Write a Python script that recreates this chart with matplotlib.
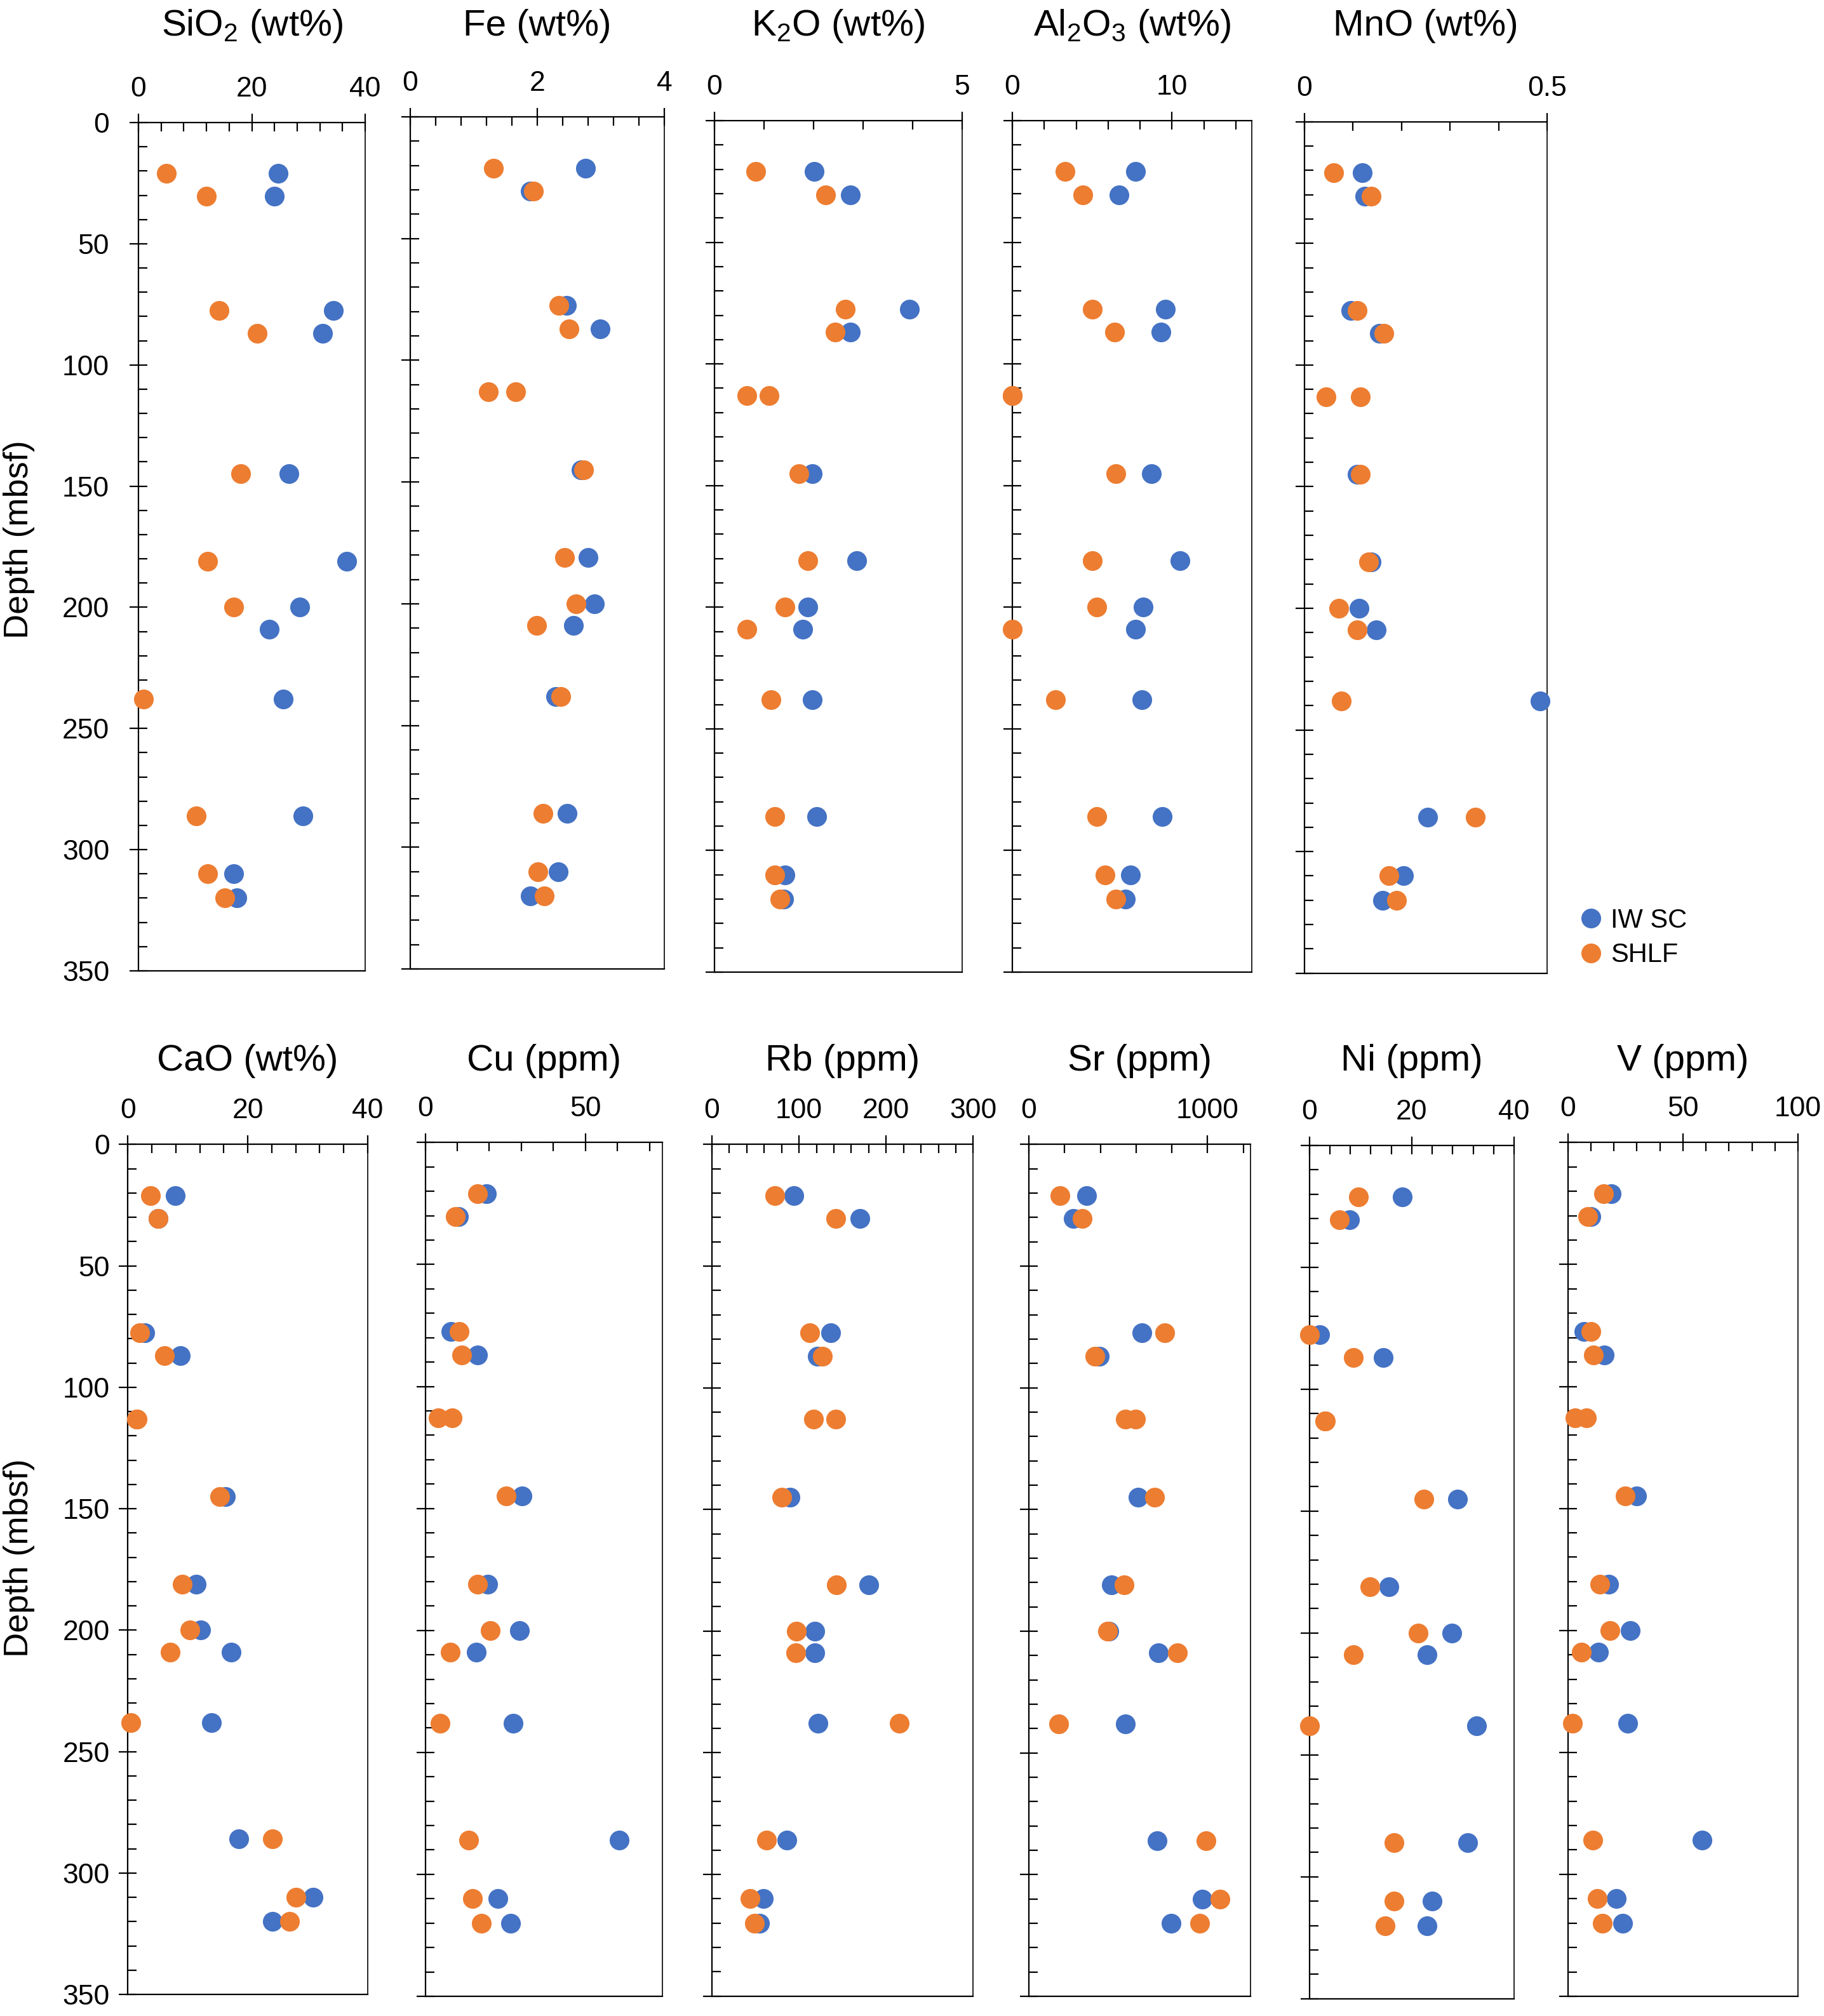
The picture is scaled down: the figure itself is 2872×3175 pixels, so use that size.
import numpy as np
import matplotlib
matplotlib.use("Agg")
import matplotlib.pyplot as plt
from matplotlib.ticker import MultipleLocator, FuncFormatter
from matplotlib.lines import Line2D

plt.rcParams['font.family'] = ['Liberation Sans', 'DejaVu Sans']

nan = np.nan

# sample depths (mbsf); SHLF has two extra samples near 113 m
depth_iw = [21, 30.5, 77.5, 87, 145, 181, 200, 209, 238, 286, 310, 320]
depth_shlf = [21, 30.5, 77.5, 87, 113, 113, 145, 181, 200, 209, 238, 286, 310, 320]

# major oxides (wt%)
sio2_iw = [24.6, 24.0, 34.4, 32.5, 26.5, 36.7, 28.5, 23.1, 25.6, 29.0, 16.8, 17.4]
sio2_shlf = [4.9, 12.0, 14.2, 20.9, nan, nan, 18.0, 12.2, 16.8, nan, 0.9, 10.2, 12.2, 15.2]
fe_iw = [2.76, 1.89, 2.46, 2.99, 2.69, 2.80, 2.90, 2.57, 2.29, 2.47, 2.33, 1.89]
fe_shlf = [1.31, 1.94, 2.34, 2.50, 1.23, 1.66, 2.73, 2.43, 2.61, 1.99, 2.37, 2.09, 2.01, 2.11]
k2o_iw = [2.02, 2.75, 3.94, 2.75, 1.97, 2.88, 1.89, 1.79, 1.97, 2.07, 1.42, 1.40]
k2o_shlf = [0.83, 2.25, 2.64, 2.44, 0.65, 1.11, 1.71, 1.89, 1.42, 0.65, 1.14, 1.22, 1.22, 1.32]
al2o3_iw = [7.7, 6.7, 9.6, 9.3, 8.7, 10.5, 8.2, 7.7, 8.1, 9.4, 7.4, 7.1]
al2o3_shlf = [3.3, 4.4, 5.0, 6.4, 0.0, 0.0, 6.5, 5.0, 5.3, 0.0, 2.7, 5.3, 5.8, 6.5]
mno_iw = [0.119, 0.124, 0.096, 0.155, 0.108, 0.137, 0.113, 0.148, 0.485, 0.254, 0.204, 0.161]
mno_shlf = [0.060, 0.137, 0.108, 0.163, 0.045, 0.115, 0.115, 0.132, 0.071, 0.108, 0.076, 0.352, 0.174, 0.190]
cao_iw = [7.9, 5.0, 2.8, 8.8, 16.3, 11.4, 12.1, 17.2, 14.0, 18.5, 30.9, 24.1]
cao_shlf = [3.8, 5.0, 2.0, 6.1, 1.4, 1.6, 15.3, 9.1, 10.3, 7.1, 0.5, 24.1, 28.1, 27.0]

# trace elements (ppm)
cu_iw = [19.1, 10.5, 8.0, 16.3, 30.2, 19.5, 29.4, 15.9, 27.5, 60.5, 22.6, 26.6]
cu_shlf = [16.3, 9.5, 10.6, 11.3, 4.1, 8.5, 25.3, 16.3, 20.3, 7.9, 4.7, 13.5, 14.7, 17.5]
rb_iw = [94, 170, 136, 121, 90, 180, 118, 118, 122, 86, 59, 55]
rb_shlf = [72, 142, 112, 127, 117, 142, 80, 143, 97, 96, 215, 63, 44, 49]
sr_iw = [325, 247, 633, 396, 611, 461, 447, 725, 540, 718, 969, 797]
sr_shlf = [175, 297, 761, 368, 539, 596, 704, 533, 439, 833, 168, 990, 1069, 954]
ni_iw = [18.2, 7.9, 2.1, 14.5, 28.9, 15.6, 27.8, 23.0, 32.7, 31.0, 24.0, 23.0]
ni_shlf = [9.6, 5.9, 0.0, 8.6, 3.0, 3.2, 22.4, 11.9, 21.3, 8.6, 0.0, 16.5, 16.5, 14.8]
v_iw = [18.9, 10.2, 7.0, 15.9, 29.9, 17.7, 27.2, 13.3, 26.1, 58.4, 21.0, 23.8]
v_shlf = [15.7, 8.7, 10.2, 11.1, 3.2, 8.0, 24.9, 13.8, 18.3, 6.0, 2.1, 11.0, 12.7, 14.9]

series_names = ['IW SC', 'SHLF']
blue = '#4472C4'
orange = '#ED7D31'

W, H = 2872, 3175
fig = plt.figure(figsize=(W / 200, H / 200), dpi=200)
fig.patch.set_facecolor('white')

# title, iw, shlf, xmax, major, minor, box in pixels (left, top, right, bottom), row
panels = [
    ('SiO$_\\mathregular{2}$ (wt%)', sio2_iw, sio2_shlf, 40, 20, 4, (218, 193, 575, 1529), 0),
    ('Fe (wt%)', fe_iw, fe_shlf, 4, 2, 0.4, (645.5, 184, 1046, 1526), 0),
    ('K$_\\mathregular{2}$O (wt%)', k2o_iw, k2o_shlf, 5, 5, 1, (1125, 190, 1514.6, 1531), 0),
    ('Al$_\\mathregular{2}$O$_\\mathregular{3}$ (wt%)', al2o3_iw, al2o3_shlf, 15, 10, 2, (1594, 190, 1971, 1531), 0),
    ('MnO (wt%)', mno_iw, mno_shlf, 0.5, 0.5, 0.1, (2054, 191.7, 2436, 1532.7), 0),
    ('CaO (wt%)', cao_iw, cao_shlf, 40, 20, 4, (201.4, 1802.3, 578.7, 3141), 1),
    ('Cu (ppm)', cu_iw, cu_shlf, 74, 50, 10, (669.5, 1799.3, 1043, 3144), 1),
    ('Rb (ppm)', rb_iw, rb_shlf, 300, 100, 20, (1121, 1802.3, 1532.4, 3143.7), 1),
    ('Sr (ppm)', sr_iw, sr_shlf, 1240, 1000, 200, (1620, 1802.3, 1969, 3144), 1),
    ('Ni (ppm)', ni_iw, ni_shlf, 40, 20, 4, (2061.5, 1804, 2384, 3147.7), 1),
    ('V (ppm)', v_iw, v_shlf, 100, 50, 10, (2468.5, 1799.3, 2831, 3144), 1),
]

fmt = FuncFormatter(lambda v, p: '%g' % v)
first_in_row = {0: True, 1: True}

for title, iw, shlf, xmax, major, minor, box, row in panels:
    l, t, r, b = box
    ax = fig.add_axes([l / W, 1 - b / H, (r - l) / W, (b - t) / H])
    ax.plot(iw, depth_iw, 'o', color=blue, ms=11.2, mew=0, clip_on=False, zorder=3)
    ax.plot(shlf, depth_shlf, 'o', color=orange, ms=11.2, mew=0, clip_on=False, zorder=4)
    ax.set_xlim(0, xmax)
    ax.set_ylim(350, 0)
    ax.xaxis.tick_top()
    ax.xaxis.set_major_locator(MultipleLocator(major))
    ax.xaxis.set_minor_locator(MultipleLocator(minor))
    ax.xaxis.set_major_formatter(fmt)
    ax.yaxis.set_major_locator(MultipleLocator(50))
    ax.yaxis.set_minor_locator(MultipleLocator(10))
    ax.tick_params(which='major', direction='inout', length=10, width=0.8, labelsize=16)
    ax.tick_params(which='minor', direction='in', length=5, width=0.8)
    ax.tick_params(axis='x', which='major', pad=6.5)
    ypad = 11.5 if row == 0 else 5.4
    ax.tick_params(axis='y', which='major', pad=ypad)
    if not first_in_row[row]:
        ax.tick_params(axis='y', labelleft=False)
    for s in ax.spines.values():
        s.set_linewidth(0.8)
    ax.spines['right'].set_linewidth(0.6)

    ty = 56 if row == 0 else 1685.6
    fig.text((l + r) / 2 / W, 1 - ty / H, title, ha='center', va='baseline', fontsize=21)

    if first_in_row[row]:
        yc = 850 if row == 0 else 2454
        fig.text(30 / W, 1 - yc / H, 'Depth (mbsf)', rotation=90, ha='center', va='center', fontsize=19.5)
        first_in_row[row] = False

handles = [Line2D([], [], ls='none', marker='o', color=c, ms=11.2, mew=0) for c in (blue, orange)]
fig.legend(handles, series_names, loc='center left', bbox_to_anchor=(2467 / W, 1 - 1477 / H),
           frameon=False, fontsize=15, handlelength=1.0, handletextpad=0.25,
           labelspacing=0.35, borderaxespad=0)

fig.savefig('out.png', dpi=200)
